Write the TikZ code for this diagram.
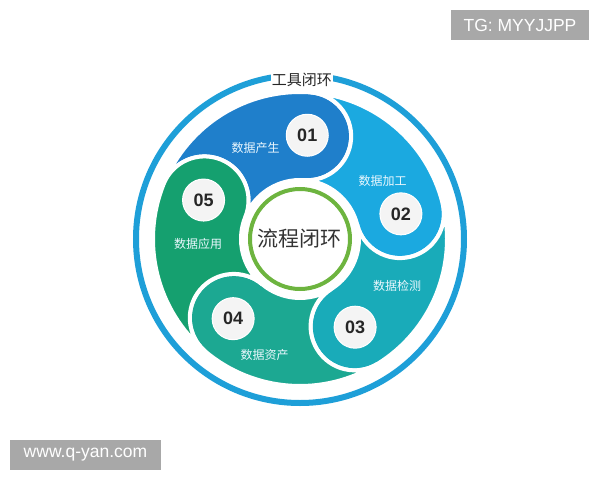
\documentclass[tikz,border=0pt]{standalone}
\usepackage{fontspec}
\setmainfont{Liberation Sans}
\newfontfamily\cjk{Noto Sans CJK SC}
\usetikzlibrary{positioning}
\definecolor{segA}{HTML}{1F7FCB}
\definecolor{segB}{HTML}{1BA9E0}
\definecolor{segC}{HTML}{19ABB9}
\definecolor{segD}{HTML}{1CA892}
\definecolor{segE}{HTML}{15A06F}
\definecolor{ringblue}{HTML}{1E9FD8}
\definecolor{hubgreen}{HTML}{6DB43F}
\tikzset{
loopchart/.style={
    x=1pt,
    y=1pt,
    every node/.style={inner sep=1pt}
},
ring/.style={
    draw=ringblue,
    line width=6pt
},
segment/.style 2 args={
    fill=#2,
    draw=white,
    line width=4pt,
    line join=round,
    insert path={({#1+72}:147) arc[start angle={#1+72}, end angle={#1}, radius=147]
        arc[start angle={#1}, end angle={#1-180}, radius=44]
        arc[start angle={#1}, end angle={#1+72}, radius=59]
        arc[start angle={#1-108}, end angle={#1+72}, radius=44] -- cycle}
},
badge/.style={
    circle,
    fill=gray!9,
    draw=white,
    line width=1pt,
    minimum size=42pt,
    inner sep=0pt,
    text=black!85,
    font=\fontsize{18}{18}\selectfont\bfseries
},
tag/.style={
    text=white!92!cyan,
    font=\cjk\fontsize{12}{12}\selectfont
},
hub/.style={
    circle,
    draw=hubgreen,
    line width=4pt,
    fill=white,
    minimum size=100pt,
    text=black!80,
    font=\cjk\fontsize{21}{21}\selectfont
},
banner/.style={
    fill=black!34,
    text=white,
    inner sep=0pt,
    minimum height=30pt,
    font=\fontsize{17.5}{17.5}\selectfont
}}

\begin{document}
\begin{tikzpicture}[loopchart]
\useasboundingbox (-300,-241) rectangle (300,239);

\draw[ring] (0,0) circle[radius=164];
\node[fill=white, font=\cjk\fontsize{15}{15}\selectfont, text=black!85] (tool) at (2,159) {工具闭环};

% five swirl segments, head angle and colour
\path[segment={86}{segA}];
\path[segment={14}{segB}];
\path[segment={-58}{segC}];
\path[segment={-130}{segD}];
\path[segment={158}{segE}];

\node[badge]    (b1)    at (86:104)      {01};
\node[badge]    (b2)    at (14:104)      {02};
\node[badge]    (b3)    at (-58:104)     {03};
\node[badge]    (b4)    at (-130:104)    {04};
\node[badge]    (b5)    at (158:104)     {05};

\node[tag]    (t1)    at (116:101)     {数据产生};
\node[tag]    (t2)    at (35:101)      {数据加工};
\node[tag]    (t3)    at (-26:108)     {数据检测};
\node[tag]    (t4)    at (-107:121)    {数据资产};
\node[tag]    (t5)    at (183:102)     {数据应用};

\node[hub]    (hub)    at (0,0)    {流程闭环};

\node[banner, minimum width=138pt]    (tg)     at (220,214)       {TG: MYYJJPP};
\node[banner, minimum width=151pt]    (web)    at (-214.5,-216)   {www.q-yan.com};
\end{tikzpicture}
\end{document}
